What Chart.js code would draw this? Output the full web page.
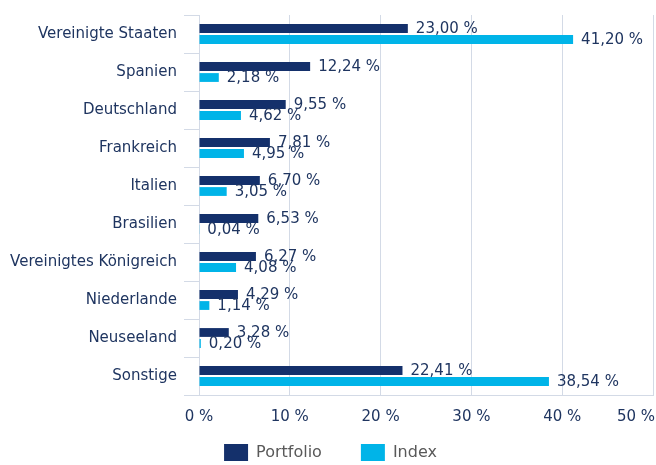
<!DOCTYPE html>
<html>
<head>
<meta charset="utf-8">
<script src="https://cdn.jsdelivr.net/npm/chart.js@4.4.1/dist/chart.umd.min.js"></script>
<style>
  html, body { margin: 0; padding: 0; background: #fff; }
  #wrap { width: 656px; height: 465px; }
</style>
</head>
<body>
<div id="wrap"><canvas id="countries"></canvas></div>
<script>
const countries = [
  "Vereinigte Staaten",
  "Spanien",
  "Deutschland",
  "Frankreich",
  "Italien",
  "Brasilien",
  "Vereinigtes Königreich",
  "Niederlande",
  "Neuseeland",
  "Sonstige",
];
const portfolio = [23.0, 12.24, 9.55, 7.81, 6.7, 6.53, 6.27, 4.29, 3.28, 22.41];
const indexWeights = [41.2, 2.18, 4.62, 4.95, 3.05, 0.04, 4.08, 1.14, 0.2, 38.54];
const xMin = 0;
const xMax = 50;
const xStep = 10;

const navy = "#14306b";
const cyan = "#00b4e8";
const textColor = "#1f3560";
const legendColor = "#595959";
const gridColor = "#d3dae6";
const fontFamily = "'DejaVu Sans', Verdana, sans-serif";

const legendPadding = 39;

const pct = (v) => v.toFixed(2).replace(".", ",") + " %";
const tickLabel = (v) => v + " %";

// value labels to the right of every bar
const valueLabels = {
  id: "valueLabels",
  afterDatasetsDraw(chart) {
    const { ctx } = chart;
    ctx.save();
    ctx.font = "15px " + fontFamily;
    ctx.fillStyle = textColor;
    ctx.textAlign = "left";
    ctx.textBaseline = "middle";
    chart.data.datasets.forEach((ds, i) => {
      chart.getDatasetMeta(i).data.forEach((bar, j) => {
        ctx.fillText(pct(ds.data[j]), bar.x + 8, bar.y + 1);
      });
    });
    ctx.restore();
  },
};

// the last x label sits inside the canvas, right aligned
const lastTick = {
  id: "lastTick",
  afterDraw(chart) {
    const { ctx } = chart;
    const s = chart.scales.x;
    ctx.save();
    ctx.font = "15px " + fontFamily;
    ctx.fillStyle = textColor;
    ctx.textAlign = "right";
    ctx.textBaseline = "middle";
    ctx.fillText(tickLabel(s.max), chart.width - 1, s.top + 22);
    ctx.restore();
  },
};

// wide gaps between legend items but the row stays close to the axis
const legendLift = {
  id: "legendLift",
  afterLayout(chart) {
    chart.legend.top -= legendPadding - 20;
  },
};

new Chart(document.getElementById("countries"), {
  type: "bar",
  data: {
    labels: countries,
    datasets: [
      {
        label: "Portfolio",
        data: portfolio,
        backgroundColor: navy,
        categoryPercentage: 0.58,
        barPercentage: 0.8,
      },
      {
        label: "Index",
        data: indexWeights,
        backgroundColor: cyan,
        categoryPercentage: 0.58,
        barPercentage: 0.8,
      },
    ],
  },
  options: {
    indexAxis: "y",
    responsive: true,
    maintainAspectRatio: false,
    animation: false,
    layout: {
      padding: { top: 15, right: 3, bottom: 0, left: 8 },
    },
    plugins: {
      tooltip: { enabled: false },
      legend: {
        position: "bottom",
        maxHeight: 41,
        labels: {
          boxWidth: 24,
          boxHeight: 17,
          padding: legendPadding,
          color: legendColor,
          font: { family: fontFamily, size: 16 },
        },
      },
    },
    scales: {
      x: {
        min: xMin,
        max: xMax,
        grid: {
          color: gridColor,
          drawTicks: false,
        },
        border: { color: gridColor },
        ticks: {
          stepSize: xStep,
          padding: 13,
          color: (c) => (c.tick && c.tick.value === xMax ? "transparent" : textColor),
          font: { family: fontFamily, size: 15 },
          callback: tickLabel,
        },
        afterFit(scale) {
          scale.paddingLeft = 0;
          scale.paddingRight = 0;
          scale.height = 29;
        },
      },
      y: {
        grid: {
          color: gridColor,
          drawOnChartArea: false,
          tickLength: 15,
        },
        border: { color: gridColor },
        ticks: {
          padding: 7,
          color: textColor,
          font: { family: fontFamily, size: 15 },
        },
        afterFit(scale) {
          scale.paddingTop = 0;
          scale.paddingBottom = 0;
          scale.width = 191;
        },
      },
    },
  },
  plugins: [valueLabels, lastTick, legendLift],
});
</script>
</body>
</html>
